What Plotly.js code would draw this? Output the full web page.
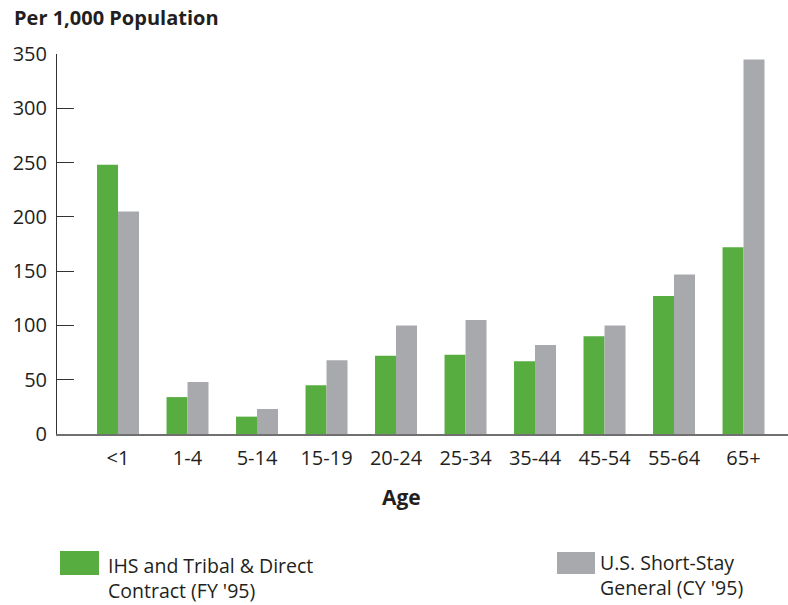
<!DOCTYPE html>
<html>
<head>
<meta charset="utf-8">
<script src="https://cdn.plot.ly/plotly-3.0.1.min.js"></script>
<style>html,body{margin:0;padding:0;background:#fff}#chart{width:788px;height:605px}</style>
</head>
<body>
<div id="chart"></div>
<script>
const categories = ["<1", "1-4", "5-14", "15-19", "20-24", "25-34", "35-44", "45-54", "55-64", "65+"];
const ihsValues = [248, 34, 16, 45, 72, 73, 67, 90, 127, 172];
const usValues = [205, 48, 23, 68, 100, 105, 82, 100, 147, 345];
const seriesNames = ["IHS and Tribal & Direct<br>Contract (FY '95)", "U.S. Short-Stay<br>General (CY '95)"];
const yTicks = [0, 50, 100, 150, 200, 250, 300, 350];
const yTitle = "Per 1,000 Population";
const xTitle = "Age";

const GREEN = "#58ad41";
const GRAY = "#a8a9ac";
const TXT = "#231f20";
const FONT = "'Open Sans', 'Noto Sans', sans-serif";

const W = 788, H = 605;
const L = 57, R = 0, T = 54, B = 171;
const pw = W - L - R, ph = H - T - B;
function px(x) { return (x - L) / pw; }
function py(y) { return (H - B - y) / ph; }

const traces = [
  {type: "bar", x: categories, y: ihsValues, name: seriesNames[0], marker: {color: GREEN}, showlegend: false, hoverinfo: "x+y"},
  {type: "bar", x: categories, y: usValues, name: seriesNames[1], marker: {color: GRAY}, showlegend: false, hoverinfo: "x+y"}
];

const layout = {
  width: W, height: H,
  margin: {l: L, r: R, t: T, b: B, pad: 0},
  paper_bgcolor: "#fff", plot_bgcolor: "#fff",
  font: {family: FONT, color: TXT, size: 20},
  barmode: "group", bargap: 0.396, bargroupgap: 0,
  showlegend: false,
  xaxis: {
    type: "category", range: [-0.878, 9.64],
    showgrid: false, zeroline: false,
    showline: true, linecolor: "#707070", linewidth: 2,
    ticks: "", tickfont: {size: 20, color: TXT, family: FONT},
    ticklabelstandoff: 5, fixedrange: true
  },
  yaxis: {
    range: [0, 350], tickvals: yTicks, ticktext: yTicks.map(String),
    showgrid: false, zeroline: false,
    showline: true, linecolor: "#333", linewidth: 1,
    ticks: "inside", ticklen: 17, tickwidth: 1, tickcolor: "#333",
    tickfont: {size: 20, color: TXT, family: FONT},
    ticklabelstandoff: 5, fixedrange: true
  },
  annotations: [
    {xref: "paper", yref: "paper", x: px(12), y: py(17), xanchor: "left", yanchor: "middle",
     text: "<b>" + yTitle + "</b>", showarrow: false, font: {size: 20, color: TXT, family: FONT}},
    {xref: "paper", yref: "paper", x: px(401), y: py(497), xanchor: "center", yanchor: "middle",
     text: "<b>" + xTitle + "</b>", showarrow: false, font: {size: 21, color: TXT, family: FONT}},
    {xref: "paper", yref: "paper", x: px(106), y: py(578), xanchor: "left", yanchor: "middle", align: "left",
     text: seriesNames[0], showarrow: false, font: {size: 19.5, color: TXT, family: FONT}},
    {xref: "paper", yref: "paper", x: px(598), y: py(575), xanchor: "left", yanchor: "middle", align: "left",
     text: seriesNames[1], showarrow: false, font: {size: 19.5, color: TXT, family: FONT}}
  ],
  shapes: [
    {type: "rect", xref: "paper", yref: "paper", x0: px(60), x1: px(99), y0: py(575), y1: py(551),
     fillcolor: GREEN, line: {width: 0}},
    {type: "rect", xref: "paper", yref: "paper", x0: px(557), x1: px(595), y0: py(574), y1: py(552),
     fillcolor: GRAY, line: {width: 0}}
  ]
};

Plotly.newPlot("chart", traces, layout, {displayModeBar: false, staticPlot: true});
</script>
</body>
</html>
